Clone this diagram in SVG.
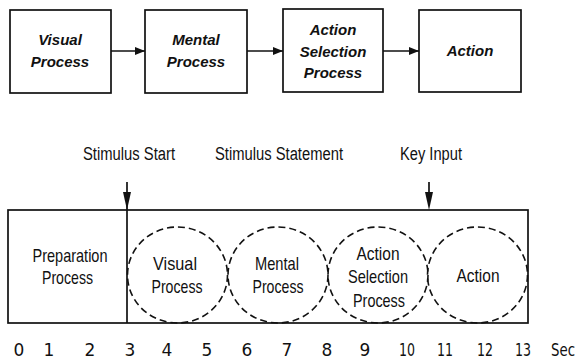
<svg xmlns="http://www.w3.org/2000/svg" width="581" height="361" viewBox="0 0 581 361">
<style>
.box{fill:#fff;stroke:#111;stroke-width:1.7}
.ln{fill:none;stroke:#111;stroke-width:1.7}
.dash{fill:none;stroke:#111;stroke-width:1.6;stroke-dasharray:7 4}
.tt{font-family:"Liberation Sans",Arial,sans-serif;font-size:15px;font-style:italic;font-weight:bold;fill:#111;text-anchor:middle}
.bt{font-family:"Liberation Sans",Arial,sans-serif;font-size:19px;fill:#111;text-anchor:middle}
.lb{font-family:"Liberation Sans",Arial,sans-serif;font-size:18px;fill:#111;text-anchor:middle}
.num{font-family:"DejaVu Sans",sans-serif;font-size:17px;fill:#111;text-anchor:middle}
</style>
<defs>
<marker id="ah" markerWidth="10" markerHeight="8" refX="10" refY="4" orient="auto" markerUnits="userSpaceOnUse">
<path d="M0,0 L10,4 L0,8 Z" fill="#111"/>
</marker>
</defs>

<g id="connectors">
<line class="ln" x1="111" y1="51" x2="145" y2="51" marker-end="url(#ah)"/>
<line class="ln" x1="247" y1="51" x2="283" y2="51" marker-end="url(#ah)"/>
<line class="ln" x1="383" y1="51" x2="419" y2="51" marker-end="url(#ah)"/>
</g>

<g id="visual-process">
<rect class="box" x="10" y="10" width="101" height="83"/>
<text class="tt" x="60" y="45">Visual</text>
<text class="tt" x="60" y="67">Process</text>
</g>
<g id="mental-process">
<rect class="box" x="145" y="10" width="102" height="83"/>
<text class="tt" x="196" y="45">Mental</text>
<text class="tt" x="196" y="67">Process</text>
</g>
<g id="action-selection-process">
<rect class="box" x="283" y="9" width="100" height="83"/>
<text class="tt" x="333" y="35">Action</text>
<text class="tt" x="333" y="57">Selection</text>
<text class="tt" x="333" y="78">Process</text>
</g>
<g id="action">
<rect class="box" x="419" y="10" width="102" height="82"/>
<text class="tt" x="470" y="56">Action</text>
</g>

<g id="timeline">
<rect class="box" x="8" y="210" width="520" height="113"/>
<line class="ln" x1="127" y1="182" x2="127" y2="323"/>
<path d="M123,192 L131,192 L127,210 Z" fill="#111"/>
<line class="ln" x1="429" y1="182" x2="429" y2="195"/>
<path d="M425,192 L433,192 L429,210 Z" fill="#111"/>
<ellipse class="dash" cx="177.5" cy="275" rx="50" ry="48"/>
<ellipse class="dash" cx="278" cy="275" rx="50" ry="48"/>
<ellipse class="dash" cx="378" cy="275" rx="50" ry="48"/>
<ellipse class="dash" cx="477.5" cy="275" rx="50" ry="48"/>
</g>

<g id="labels">
<text class="lb" x="129" y="160" textLength="92" lengthAdjust="spacingAndGlyphs">Stimulus Start</text>
<text class="lb" x="279" y="160" textLength="128" lengthAdjust="spacingAndGlyphs">Stimulus Statement</text>
<text class="lb" x="431" y="160" textLength="62" lengthAdjust="spacingAndGlyphs">Key Input</text>
<text class="bt" x="70" y="262" textLength="75" lengthAdjust="spacingAndGlyphs">Preparation</text>
<text class="bt" x="67.5" y="284" textLength="51" lengthAdjust="spacingAndGlyphs">Process</text>
<text class="bt" x="175" y="270" textLength="44" lengthAdjust="spacingAndGlyphs">Visual</text>
<text class="bt" x="177" y="293" textLength="51" lengthAdjust="spacingAndGlyphs">Process</text>
<text class="bt" x="277" y="270" textLength="44" lengthAdjust="spacingAndGlyphs">Mental</text>
<text class="bt" x="278" y="293" textLength="51" lengthAdjust="spacingAndGlyphs">Process</text>
<text class="bt" x="378" y="260" textLength="43" lengthAdjust="spacingAndGlyphs">Action</text>
<text class="bt" x="378" y="283" textLength="60" lengthAdjust="spacingAndGlyphs">Selection</text>
<text class="bt" x="379" y="307" textLength="52" lengthAdjust="spacingAndGlyphs">Process</text>
<text class="bt" x="478" y="282" textLength="43" lengthAdjust="spacingAndGlyphs">Action</text>
</g>

<g id="axis">
<text class="num" x="19" y="356">0</text>
<text class="num" x="49" y="356">1</text>
<text class="num" x="90" y="356">2</text>
<text class="num" x="130" y="356">3</text>
<text class="num" x="167" y="356">4</text>
<text class="num" x="207" y="356">5</text>
<text class="num" x="247" y="356">6</text>
<text class="num" x="287" y="356">7</text>
<text class="num" x="327" y="356">8</text>
<text class="num" x="365" y="356">9</text>
<text class="num" x="407" y="356" textLength="16" lengthAdjust="spacingAndGlyphs">10</text>
<text class="num" x="445" y="356" textLength="16" lengthAdjust="spacingAndGlyphs">11</text>
<text class="num" x="485" y="356" textLength="16" lengthAdjust="spacingAndGlyphs">12</text>
<text class="num" x="523" y="356" textLength="16" lengthAdjust="spacingAndGlyphs">13</text>
<text class="num" x="563" y="356" textLength="24" lengthAdjust="spacingAndGlyphs">Sec</text>
</g>
</svg>
